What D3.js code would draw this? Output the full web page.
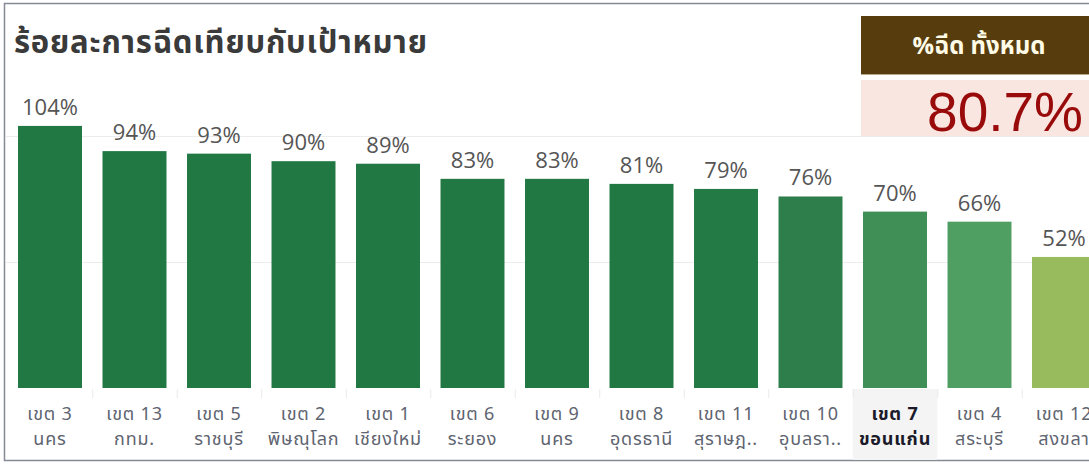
<!DOCTYPE html>
<html>
<head>
<meta charset="utf-8">
<script src="https://cdn.jsdelivr.net/npm/d3@7"></script>
<style>
  html, body { margin: 0; padding: 0; background: #fff; overflow: hidden; }
  svg { display: block; font-family: Tahoma, "Noto Sans Thai", "Noto Sans", sans-serif; }
</style>
</head>
<body>
<svg id="chart" width="1089" height="464"></svg>
<script>
// ---- data ----
const zones = ["เขต 3", "เขต 13", "เขต 5", "เขต 2", "เขต 1", "เขต 6", "เขต 9", "เขต 8", "เขต 11", "เขต 10", "เขต 7", "เขต 4", "เขต 12"];
const provinces = ["นคร", "กทม.", "ราชบุรี", "พิษณุโลก", "เชียงใหม่", "ระยอง", "นคร", "อุดรธานี", "สุราษฎ..", "อุบลรา..", "ขอนแก่น", "สระบุรี", "สงขลา"];
const percents = [104, 94, 93, 90, 89, 83, 83, 81, 79, 76, 70, 66, 52];
const gridTicks = [50, 100];
const highlighted = "เขต 7";
const title = "ร้อยละการฉีดเทียบกับเป้าหมาย";
const kpiLabel = "%ฉีด ทั้งหมด";
const kpiValue = 80.7;

// ---- layout ----
const svg = d3.select("#chart");
const W = 1089, H = 464;
const baseY = 388;

const x = d3.scaleBand()
  .domain(zones)
  .range([7.75, 7.75 + 13 * 84.5])
  .paddingInner(0.243)
  .paddingOuter(0.1215);

const y = d3.scaleLinear().domain([0, 100]).range([baseY, baseY - 252]);

const color = d3.scaleLinear()
  .domain([52, 66, 70, 76, 80, 104])
  .range(["#98bb5e", "#4f9f62", "#3f8f56", "#2d7e4a", "#217843", "#217843"])
  .clamp(true);

// frame
svg.append("rect").attr("x", 4.5).attr("y", 3.5).attr("width", W + 10).attr("height", 457)
  .attr("fill", "none").attr("stroke", "#858b94").attr("stroke-width", 1.5);

// highlight band behind label
const hx = x(highlighted) - x.step() * x.paddingInner() / 2;
svg.append("rect").attr("x", hx).attr("y", 389).attr("width", x.step()).attr("height", 71)
  .attr("fill", "#f4f4f4");

// gridlines
svg.append("g").selectAll("line").data(gridTicks).join("line")
  .attr("x1", 6).attr("x2", W)
  .attr("y1", d => y(d) + 0.5).attr("y2", d => y(d) + 0.5)
  .attr("stroke", "#ececec").attr("stroke-width", 1);

// category separators
svg.append("g").selectAll("line").data(zones.slice(1)).join("line")
  .attr("x1", d => x(d) - x.step() * x.paddingInner() / 2 + 0.5)
  .attr("x2", d => x(d) - x.step() * x.paddingInner() / 2 + 0.5)
  .attr("y1", baseY + 1).attr("y2", baseY + 10)
  .attr("stroke", "#eaeaea");

// bars
svg.append("g").selectAll("rect").data(percents).join("rect")
  .attr("x", (d, i) => x(zones[i]))
  .attr("width", x.bandwidth())
  .attr("y", d => y(d))
  .attr("height", d => baseY - y(d))
  .attr("fill", d => color(d));

// value labels
svg.append("g").selectAll("text").data(percents).join("text")
  .attr("x", (d, i) => x(zones[i]) + x.bandwidth() / 2)
  .attr("y", d => y(d) - 11)
  .attr("text-anchor", "middle")
  .attr("font-size", 22)
  .attr("font-family", "'Open Sans', 'Noto Sans', sans-serif")
  .attr("fill", "#555")
  .text(d => d + "%");

// x labels (two lines)
const xlab = svg.append("g")
  .attr("font-size", 18)
  .attr("letter-spacing", 0.8)
  .attr("text-anchor", "middle");
[zones, provinces].forEach((arr, row) => {
  xlab.append("g").selectAll("text").data(arr).join("text")
    .attr("x", (d, i) => x(zones[i]) + x.bandwidth() / 2)
    .attr("y", 420 + row * 25)
    .attr("fill", (d, i) => zones[i] === highlighted ? "#1a1a2a" : "#5e6470")
    .attr("font-weight", (d, i) => zones[i] === highlighted ? "bold" : "normal")
    .text(d => d);
});

// title
svg.append("text").attr("x", 14).attr("y", 53)
  .attr("font-size", 31).attr("letter-spacing", 0.8)
  .attr("font-weight", "bold").attr("fill", "#3a3a3a")
  .text(title);

// KPI
svg.append("rect").attr("x", 861).attr("y", 16).attr("width", 240).attr("height", 58)
  .attr("fill", "#573c0e");
svg.append("line").attr("x1", 861).attr("x2", W).attr("y1", 74.5).attr("y2", 74.5)
  .attr("stroke", "#b8a98a");
svg.append("text").attr("x", 979).attr("y", 54).attr("text-anchor", "middle")
  .attr("font-size", 24).attr("font-weight", "bold").attr("fill", "#fffbe6")
  .text(kpiLabel);
svg.append("rect").attr("x", 861).attr("y", 80).attr("width", 240).attr("height", 56)
  .attr("fill", "#fae6e0");
svg.append("text").attr("x", 1083).attr("y", 131).attr("text-anchor", "end")
  .attr("font-family", "Arial, 'Liberation Sans', sans-serif")
  .attr("font-size", 55).attr("fill", "#990a0a")
  .text(d3.format(".1f")(kpiValue) + "%");
</script>
</body>
</html>
